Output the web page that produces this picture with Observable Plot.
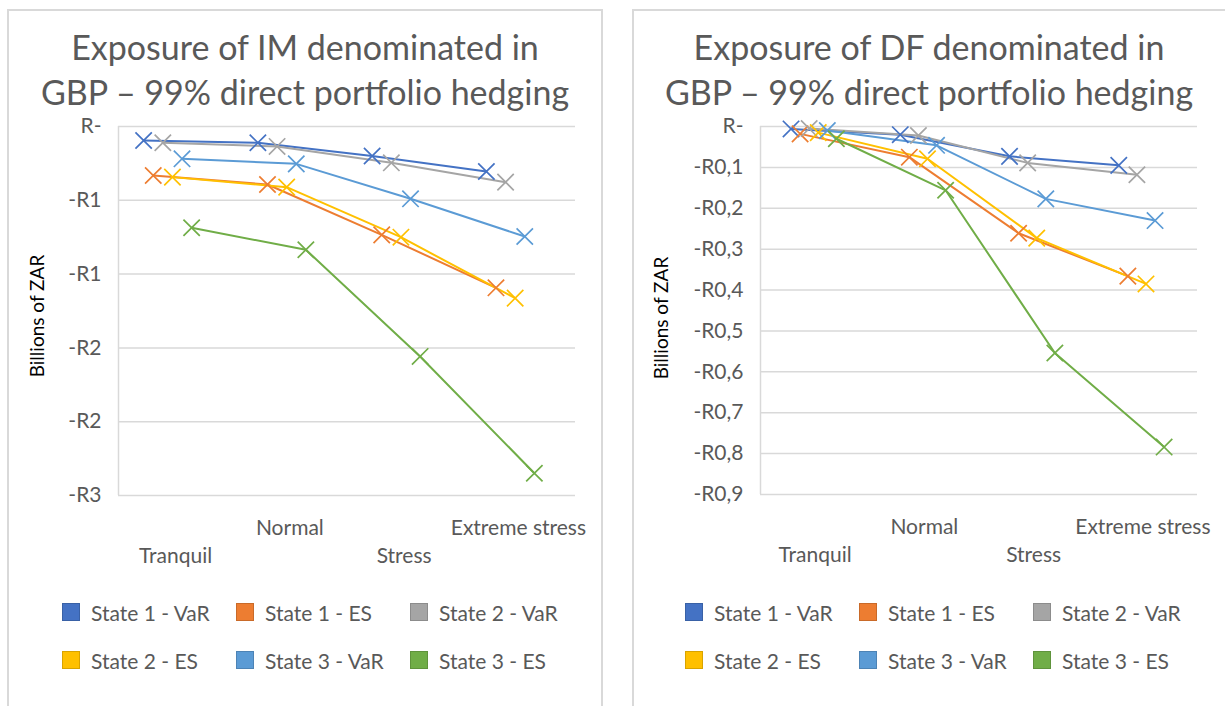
<!DOCTYPE html>
<html>
<head>
<meta charset="utf-8">
<script src="https://cdn.jsdelivr.net/npm/d3@7"></script>
<script src="https://cdn.jsdelivr.net/npm/@observablehq/plot@0.6"></script>
<style>
  html, body { margin: 0; padding: 0; background: #fff; }
  #page { position: relative; width: 1225px; height: 706px; overflow: hidden; font-family: Lato, "Open Sans", sans-serif; }
  .panel { position: absolute; top: 9px; height: 700px; border: 2px solid #d9d9d9; box-sizing: border-box; background: #fff; }
  .title { position: absolute; top: 24px; text-align: center; font-size: 34px; line-height: 45px; color: #595959; white-space: nowrap; }
  .chart { position: absolute; top: 110px; }
  .ylabel { position: absolute; width: 200px; height: 24px; line-height: 24px; margin-left: -100px; margin-top: -12px; text-align: center; font-size: 19px; color: #000; transform: rotate(-90deg); white-space: nowrap; }
  .legend { position: absolute; top: 600px; display: grid; grid-template-columns: 174px 174px 174px; row-gap: 24px; }
  .item { display: flex; align-items: center; height: 24px; font-size: 21px; color: #595959; white-space: nowrap; }
  .sw { width: 18px; height: 18px; margin-right: 11px; box-sizing: border-box; border: 1px solid rgba(0,0,0,0.15); flex: none; }
</style>
</head>
<body>
<div id="page">
  <div class="panel" style="left:7px; width:596px;"></div>
  <div class="panel" style="left:632px; width:596px;"></div>
  <div class="title" style="left:7px; width:596px;">Exposure of IM denominated in<br>GBP – 99% direct portfolio hedging</div>
  <div class="title" style="left:632px; width:594px;">Exposure of DF denominated in<br>GBP – 99% direct portfolio hedging</div>
  <div class="chart" id="chartIM" style="left:0px;"></div>
  <div class="chart" id="chartDF" style="left:620px;"></div>
  <div class="ylabel" style="left:37px; top:316px;">Billions of ZAR</div>
  <div class="ylabel" style="left:661px; top:318px;">Billions of ZAR</div>
  <div class="legend" id="legendIM" style="left:62px;"></div>
  <div class="legend" id="legendDF" style="left:685px;"></div>
</div>
<script>
// Market states along the x axis
const categories = ["Tranquil", "Normal", "Stress", "Extreme stress"];

// Series names and their colours
const seriesNames = ["State 1 - VaR", "State 1 - ES", "State 2 - VaR", "State 2 - ES", "State 3 - VaR", "State 3 - ES"];
const seriesColors = ["#4472C4", "#ED7D31", "#A5A5A5", "#FFC000", "#5B9BD5", "#70AD47"];

// Exposure of IM (billions of ZAR), one array per series
const imState1VaR = [-0.095, -0.11, -0.20, -0.305];
const imState1ES  = [-0.332, -0.393, -0.734, -1.093];
const imState2VaR = [-0.11, -0.135, -0.246, -0.377];
const imState2ES  = [-0.343, -0.411, -0.75, -1.163];
const imState3VaR = [-0.219, -0.253, -0.49, -0.745];
const imState3ES  = [-0.686, -0.835, -1.558, -2.349];

// Exposure of DF (billions of ZAR), one array per series
const dfState1VaR = [-0.006, -0.02, -0.073, -0.095];
const dfState1ES  = [-0.018, -0.075, -0.261, -0.366];
const dfState2VaR = [-0.005, -0.022, -0.089, -0.118];
const dfState2ES  = [-0.015, -0.079, -0.273, -0.385];
const dfState3VaR = [-0.01, -0.046, -0.177, -0.23];
const dfState3ES  = [-0.03, -0.156, -0.554, -0.784];

// Y axis tick values
const imTicks = [0, -0.5, -1, -1.5, -2, -2.5];
const dfTicks = [0, -0.1, -0.2, -0.3, -0.4, -0.5, -0.6, -0.7, -0.8, -0.9];

// Currency formats: zero shows as "R-", values rounded per axis precision
const fmtIM = v => v === 0 ? "R-" : "-R" + Math.round(Math.abs(v));
const fmtDF = v => v === 0 ? "R-" : "-R" + Math.abs(v).toFixed(1).replace(".", ",");

function rows(seriesValues, shift, step) {
  const out = [];
  seriesValues.forEach((vals, si) => {
    vals.forEach((v, ci) => {
      out.push({series: seriesNames[si], ci, value: v, x: ci + shift + (si - 2.5) * step});
    });
  });
  return out;
}

function chart({data, ticks, fmt, yMin, width, marginLeft, marginRight, marginBottom}) {
  const grid = "#d9d9d9";
  const even = categories.map((c, i) => ({c, i})).filter(d => d.i % 2 === 0);
  const odd = categories.map((c, i) => ({c, i})).filter(d => d.i % 2 === 1);
  return Plot.plot({
    width, height: 470,
    marginLeft, marginRight, marginTop: 16, marginBottom,
    x: {domain: [-0.5, 3.5], axis: null},
    y: {domain: [yMin, 0], axis: null},
    color: {domain: seriesNames, range: seriesColors},
    style: {fontFamily: "Lato, 'Open Sans', sans-serif", fontSize: "21px", color: "#595959", background: "transparent", overflow: "visible"},
    marks: [
      Plot.ruleY(ticks, {stroke: grid, strokeWidth: 1.5}),
      Plot.ruleX([-0.5], {stroke: grid, strokeWidth: 1.5}),
      Plot.text(ticks, {x: -0.5, y: d => d, text: fmt, textAnchor: "end", dx: -17, fill: "#595959", fontSize: 21}),
      Plot.text(odd, {x: "i", text: "c", frameAnchor: "bottom", dy: 39, fill: "#595959", fontSize: 21}),
      Plot.text(even, {x: "i", text: "c", frameAnchor: "bottom", dy: 67, fill: "#595959", fontSize: 21}),
      Plot.line(data, {x: "x", y: "value", z: "series", stroke: "series", strokeWidth: 2}),
      Plot.dot(data, {x: "x", y: "value", stroke: "series", symbol: "times", r: 7.5, strokeWidth: 1.7})
    ]
  });
}

const imData = rows([imState1VaR, imState1ES, imState2VaR, imState2ES, imState3VaR, imState3ES], -0.07, 0.084);
const dfData = rows([dfState1VaR, dfState1ES, dfState2VaR, dfState2ES, dfState3VaR, dfState3ES], -0.013, 0.083);

document.getElementById("chartIM").append(chart({
  data: imData, ticks: imTicks, fmt: fmtIM, yMin: -2.5,
  width: 610, marginLeft: 118, marginRight: 35, marginBottom: 85
}));
document.getElementById("chartDF").append(chart({
  data: dfData, ticks: dfTicks, fmt: fmtDF, yMin: -0.9,
  width: 600, marginLeft: 140, marginRight: 23, marginBottom: 86
}));

for (const id of ["legendIM", "legendDF"]) {
  const el = document.getElementById(id);
  seriesNames.forEach((name, i) => {
    const item = document.createElement("div");
    item.className = "item";
    const sw = document.createElement("span");
    sw.className = "sw";
    sw.style.background = seriesColors[i];
    item.append(sw, document.createTextNode(name));
    el.append(item);
  });
}
</script>
</body>
</html>
